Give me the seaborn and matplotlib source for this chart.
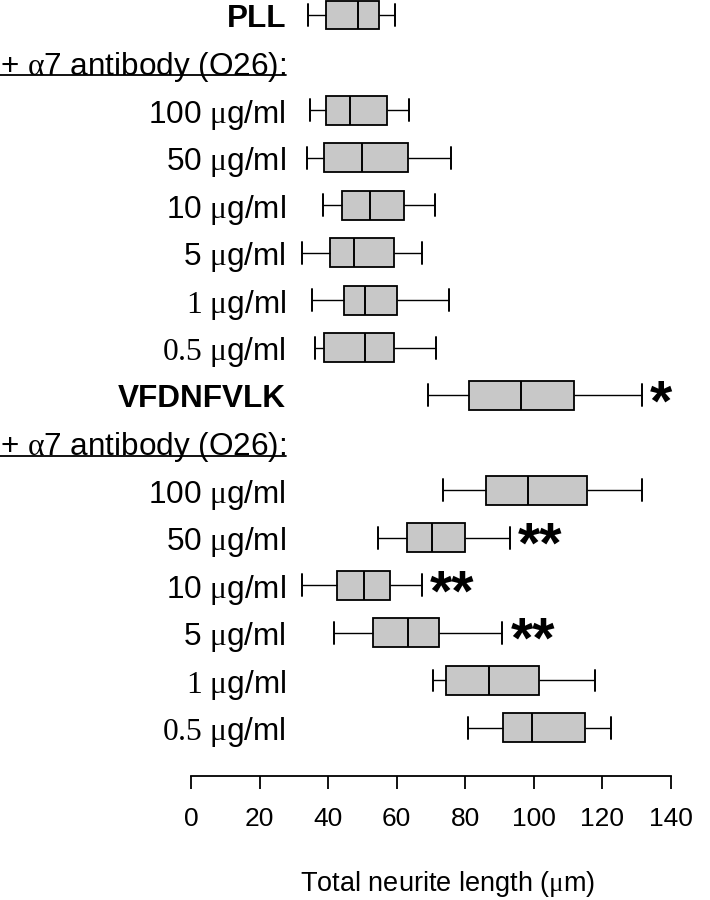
import numpy as np
import pandas as pd
import matplotlib
matplotlib.use("Agg")
import matplotlib.pyplot as plt
from matplotlib.lines import Line2D
import seaborn as sns

# ---------------- data ----------------
MU = r"$\mathrm{\mu}$"
HEADER = r"+ $\mathrm{\alpha}$7 antibody (O26):"
row_labels = [
    "PLL", HEADER,
    "100 " + MU + "g/ml", "50 " + MU + "g/ml", "10 " + MU + "g/ml",
    "5 " + MU + "g/ml", r"$\mathrm{1\ \mu}$g/ml", r"$\mathrm{0.5\ \mu}$g/ml",
    "VFDNFVLK", HEADER,
    "100 " + MU + "g/ml", "50 " + MU + "g/ml", "10 " + MU + "g/ml",
    "5 " + MU + "g/ml", r"$\mathrm{1\ \mu}$g/ml", r"$\mathrm{0.5\ \mu}$g/ml",
]
bold_rows = [0, 8]
header_rows = [1, 9]
# rows holding data (header rows have none)
data_rows = [0, 2, 3, 4, 5, 6, 7, 8, 10, 11, 12, 13, 14, 15]
whisker_low = [34.2, 34.7, 33.7, 38.4, 32.5, 35.4, 36.3,
               69.1, 73.4, 54.6, 32.3, 41.6, 70.5, 80.7]
quart_1 = [39.4, 39.4, 38.8, 44.0, 40.4, 44.7, 38.8,
           81.2, 86.0, 63.0, 42.5, 53.0, 74.5, 90.9]
median = [48.7, 46.5, 49.8, 52.2, 47.5, 50.8, 50.7,
          96.2, 98.3, 70.4, 50.5, 63.2, 86.9, 99.5]
quart_3 = [54.9, 57.2, 63.2, 62.1, 59.1, 60.2, 59.1,
           111.6, 115.4, 80.0, 57.9, 72.3, 101.4, 114.9]
whisker_high = [59.4, 63.5, 75.9, 71.3, 67.3, 75.3, 71.4,
                131.5, 131.5, 93.1, 67.4, 90.8, 117.9, 122.6]
signif = {8: "*", 11: "**", 12: "**", 13: "**"}
x_ticks = [0, 20, 40, 60, 80, 100, 120, 140]

# ---------------- long-form table ----------------
keys = [f"r{i}" for i in range(len(row_labels))]
recs = []
for j, r in enumerate(data_rows):
    for v in (whisker_low[j], quart_1[j], median[j], quart_3[j], whisker_high[j]):
        recs.append({"row": keys[r], "value": v})
df = pd.DataFrame(recs)

# ---------------- style ----------------
sns.set_style("white")
plt.rcParams["font.family"] = ["Liberation Sans", "DejaVu Sans"]
plt.rcParams["mathtext.fontset"] = "custom"
plt.rcParams["mathtext.rm"] = "Liberation Serif"
plt.rcParams["mathtext.it"] = "Liberation Serif"
plt.rcParams["mathtext.bf"] = "Liberation Serif:bold"
for k in ["text.color", "axes.labelcolor", "xtick.color", "ytick.color"]:
    plt.rcParams[k] = "black"

W, H = 710, 900
fig = plt.figure(figsize=(W / 100, H / 100), dpi=100)
ax = fig.add_axes([191 / W, 1 - 776 / H, 480 / W, 776 / H])

sns.boxplot(
    data=df, x="value", y="row", order=keys, orient="h",
    whis=(0, 100), width=0.61, color="#c8c8c8", saturation=1,
    linecolor="black", linewidth=1.3, fliersize=0, ax=ax,
    capwidths=0.46,
    whiskerprops={"linewidth": 1.0},
    capprops={"linewidth": 1.4},
    medianprops={"linewidth": 1.4},
)

ax.set_xlim(0, 140)
ax.set_ylim(16.01, -0.3156)
for a in list(ax.patches) + list(ax.lines):
    a.set_clip_on(False)

# significance asterisks
for r, s in signif.items():
    j = data_rows.index(r)
    ax.annotate(s, xy=(whisker_high[j], r), xytext=(8, -25),
                textcoords="offset pixels", ha="left", va="baseline",
                fontsize=41, fontweight="bold", color="black",
                annotation_clip=False)

# axes styling
for side in ["top", "right", "left"]:
    ax.spines[side].set_visible(False)
ax.spines["bottom"].set_linewidth(1.3)
ax.spines["bottom"].set_color("black")
ax.set_xticks(x_ticks)
ax.set_xticklabels([str(t) for t in x_ticks])
ax.tick_params(axis="x", direction="out", length=9.5, width=1.3,
               color="black", labelsize=19, pad=13, bottom=True,
               labelcolor="black")
ax.set_yticks(range(len(row_labels)))
ax.set_yticklabels(row_labels)
ax.tick_params(axis="y", length=0, labelsize=22.7, pad=-68.4,
               labelcolor="black")
for i, t in enumerate(ax.get_yticklabels()):
    if i in bold_rows:
        t.set_fontweight("bold")

ax.set_ylabel("")
ax.set_xlabel("Total neurite length (" + MU + "m)", fontsize=19.5,
              color="black")
ax.xaxis.set_label_coords(0.535, -0.1198)
ax.xaxis.label.set_va("top")

# underline headers
fig.canvas.draw()
renderer = fig.canvas.get_renderer()
for i, t in enumerate(ax.get_yticklabels()):
    if i in header_rows:
        bb = t.get_window_extent(renderer)
        y_disp = ax.transData.transform((0, i + 0.27))[1]
        x0, y0 = fig.transFigure.inverted().transform((bb.x0, y_disp))
        x1, _ = fig.transFigure.inverted().transform((bb.x1, y_disp))
        fig.add_artist(Line2D([x0, x1], [y0, y0], color="black",
                              linewidth=1.3, transform=fig.transFigure))

fig.savefig("out.png", dpi=100)
